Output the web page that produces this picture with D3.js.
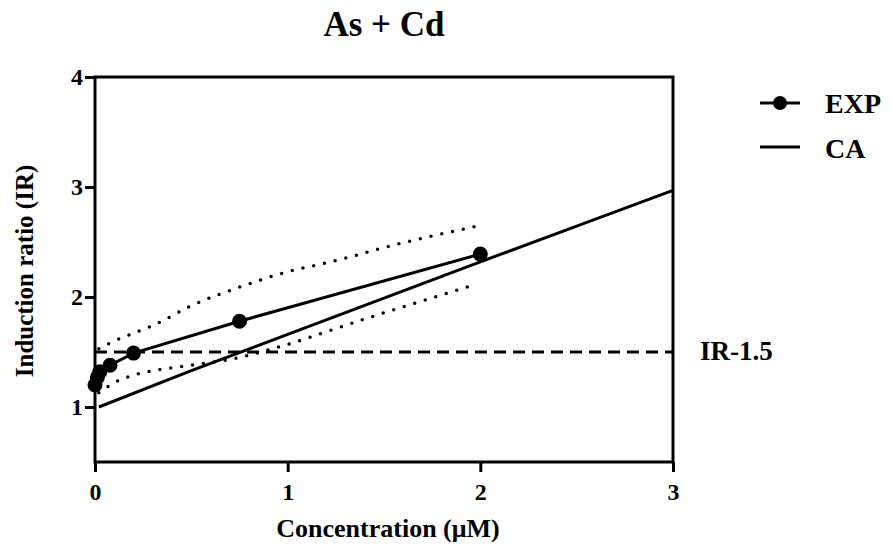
<!DOCTYPE html>
<html>
<head>
<meta charset="utf-8">
<script src="https://cdn.jsdelivr.net/npm/d3@7"></script>
<style>
body { margin: 0; background: #fff; }
text { font-family: "Liberation Serif", "Times New Roman", serif; font-weight: bold; }
</style>
</head>
<body>
<script>
// data
var expX = [0, 0.0125, 0.025, 0.078, 0.2, 0.75, 2];
var expY = [1.2, 1.27, 1.32, 1.38, 1.49, 1.78, 2.39];
var caX = [0.02, 0.5, 1, 1.5, 2, 2.5, 3];
var caY = [1.0, 1.33, 1.66, 1.99, 2.32, 2.645, 2.97];
var upperX = [0.02, 0.1, 0.2, 0.3, 0.5, 0.75, 1.0, 1.25, 1.5, 2.0];
var upperY = [1.53, 1.6, 1.67, 1.74, 1.92, 2.09, 2.23, 2.33, 2.45, 2.65];
var lowerX = [0.02, 0.1, 0.2, 0.3, 0.5, 0.75, 1.0, 1.4, 1.95];
var lowerY = [1.13, 1.22, 1.29, 1.33, 1.38, 1.45, 1.57, 1.8, 2.1];
var irLevel = 1.5;
var xTicks = [0, 1, 2, 3];
var yTicks = [1, 2, 3, 4];

var svg = d3.select("body")
    .append("svg")
    .attr("width", 892)
    .attr("height", 550)
    .style("display", "block");

var margin = {left: 95, top: 77, right: 219, bottom: 88};
var width = 892 - margin.left - margin.right;
var height = 550 - margin.top - margin.bottom;

var g = svg.append("g").attr("transform", "translate(" + margin.left + "," + margin.top + ")");

var x = d3.scaleLinear().domain([0, 3]).range([0, width]);
var y = d3.scaleLinear().domain([0.5, 4]).range([height, 0]);

function pts(xs, ys) { return xs.map(function(v, i) { return [v, ys[i]]; }); }

var line = d3.line()
    .x(function(d) { return x(d[0]); })
    .y(function(d) { return y(d[1]); });
var smooth = d3.line()
    .x(function(d) { return x(d[0]); })
    .y(function(d) { return y(d[1]); })
    .curve(d3.curveMonotoneX);

// frame
g.append("rect")
    .attr("x", 0).attr("y", 0)
    .attr("width", width).attr("height", height)
    .attr("fill", "none").attr("stroke", "#000").attr("stroke-width", 3);

var xAxis = d3.axisBottom(x).tickValues(xTicks).tickSize(10).tickFormat(d3.format("d"));
var yAxis = d3.axisLeft(y).tickValues(yTicks).tickSize(10).tickFormat(d3.format("d"));

var gx = g.append("g").attr("transform", "translate(0," + height + ")").call(xAxis);
var gy = g.append("g").call(yAxis);
[gx, gy].forEach(function(a) {
    a.select(".domain").remove();
    a.selectAll(".tick line").attr("stroke", "#000").attr("stroke-width", 3);
    a.selectAll(".tick text")
        .style("font-family", "'Liberation Serif', serif")
        .style("font-weight", "bold")
        .style("font-size", "24px")
        .attr("fill", "#000");
});
gx.selectAll(".tick text").attr("y", 38).attr("dy", 0);
gy.selectAll(".tick text").attr("x", -12);

// IR 1.5 dashed line
g.append("path")
    .attr("d", line([[0, irLevel], [3, irLevel]]))
    .attr("fill", "none").attr("stroke", "#000")
    .attr("stroke-width", 3).attr("stroke-dasharray", "12,7");

// confidence bands
[pts(upperX, upperY), pts(lowerX, lowerY)].forEach(function(b) {
    g.append("path")
        .attr("d", smooth(b))
        .attr("fill", "none").attr("stroke", "#000")
        .attr("stroke-width", 3.5)
        .attr("stroke-linecap", "round")
        .attr("stroke-dasharray", "0,11");
});

// CA
g.append("path")
    .attr("d", line(pts(caX, caY)))
    .attr("fill", "none").attr("stroke", "#000").attr("stroke-width", 3);

// EXP
g.append("path")
    .attr("d", line(pts(expX, expY)))
    .attr("fill", "none").attr("stroke", "#000").attr("stroke-width", 3);
g.selectAll("circle.exp")
    .data(pts(expX, expY))
    .enter()
    .append("circle")
    .attr("class", "exp")
    .attr("cx", function(d) { return x(d[0]); })
    .attr("cy", function(d) { return y(d[1]); })
    .attr("r", 7.5)
    .attr("fill", "#000");

g.append("text")
    .attr("x", width + 27)
    .attr("y", y(irLevel) + 8)
    .text("IR-1.5")
    .style("font-size", "27px");

// titles
svg.append("text")
    .attr("x", margin.left + width / 2)
    .attr("y", 36)
    .attr("text-anchor", "middle")
    .text("As + Cd")
    .style("font-size", "35px");

svg.append("text")
    .attr("x", 388)
    .attr("y", 537)
    .attr("text-anchor", "middle")
    .text("Concentration (\u03bcM)")
    .style("font-size", "26px");

svg.append("text")
    .attr("transform", "translate(33,271) rotate(-90)")
    .attr("text-anchor", "middle")
    .text("Induction ratio (IR)")
    .style("font-size", "25px");

// legend
var legend = svg.append("g").attr("transform", "translate(760,0)");
legend.append("line").attr("x1", 0).attr("x2", 40).attr("y1", 103).attr("y2", 103)
    .attr("stroke", "#000").attr("stroke-width", 3);
legend.append("circle").attr("cx", 20).attr("cy", 103).attr("r", 7).attr("fill", "#000");
legend.append("text").attr("x", 65).attr("y", 113).text("EXP").style("font-size", "28px");
legend.append("line").attr("x1", 0).attr("x2", 40).attr("y1", 147).attr("y2", 147)
    .attr("stroke", "#000").attr("stroke-width", 3);
legend.append("text").attr("x", 65).attr("y", 158).text("CA").style("font-size", "28px");
</script>
</body>
</html>
